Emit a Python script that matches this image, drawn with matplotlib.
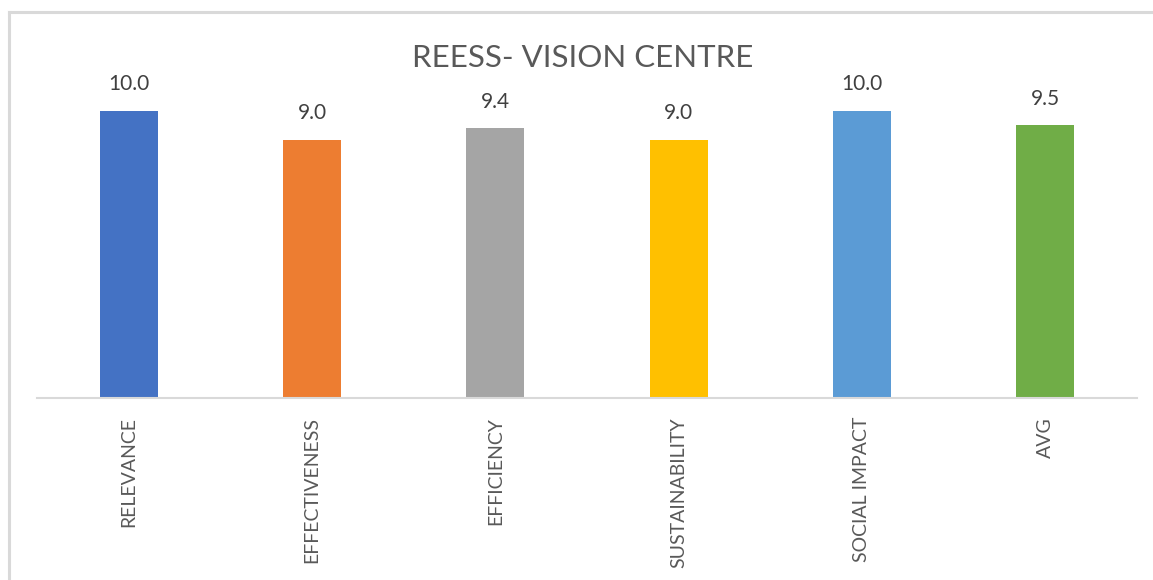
import matplotlib.pyplot as plt
from matplotlib.lines import Line2D

# data
categories = ["RELEVANCE", "EFFECTIVENESS", "EFFICIENCY", "SUSTAINABILITY", "SOCIAL IMPACT", "AVG"]
scores = [10.0, 9.0, 9.4, 9.0, 10.0, 9.5]
colors = ["#4472C4", "#ED7D31", "#A5A5A5", "#FFC000", "#5B9BD5", "#70AD47"]
title = "REESS- VISION CENTRE"

plt.rcParams['font.family'] = ['Lato', 'DejaVu Sans']
txt = "#595959"

W, H = 1153, 580
fig = plt.figure(figsize=(W / 100, H / 100), dpi=100)

# axes area in pixels: x 37..1137, baseline at y=397.5
ax = fig.add_axes([37 / W, (H - 397.5) / H, 1100 / W, 315 / H])
x = range(len(categories))
bars = ax.bar(x, scores, width=0.316, color=colors)
ax.set_xlim(-0.5, len(categories) - 0.5)
ax.set_ylim(0, 11)

for b, v in zip(bars, scores):
    ax.annotate(f"{v:.1f}", (b.get_x() + b.get_width() / 2, v),
                xytext=(0, 12), textcoords="offset points",
                ha="center", va="bottom", fontsize=15, color="#404040")

for s in ["top", "right", "left"]:
    ax.spines[s].set_visible(False)
ax.spines["bottom"].set_color("#D9D9D9")
ax.spines["bottom"].set_linewidth(1.5)
ax.set_yticks([])
ax.set_xticks(list(x))
ax.set_xticklabels(categories, rotation=90, fontsize=14, color=txt, va="top")
ax.tick_params(axis="x", length=0, pad=14)

fig.text(583 / W, 1 - 58 / H, title, ha="center", va="center", fontsize=22.5, color=txt)

# chart border (left and top only, rest is cropped)
fig.add_artist(Line2D([8.5 / W, 8.5 / W], [0, 1 - 11.5 / H], color="#D9D9D9", lw=2.2))
fig.add_artist(Line2D([8.5 / W, 1], [1 - 11.5 / H, 1 - 11.5 / H], color="#D9D9D9", lw=2.2))

fig.savefig("out.png", dpi=100)
